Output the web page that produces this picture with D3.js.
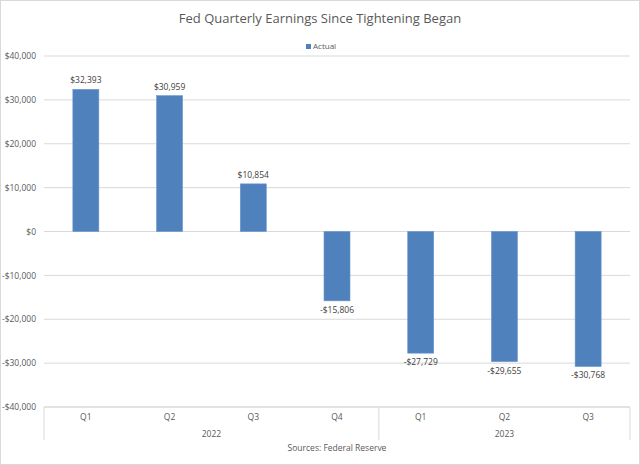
<!DOCTYPE html>
<html><head><meta charset="utf-8">
<script src="https://cdn.jsdelivr.net/npm/d3@7"></script>
<style>body{margin:0;background:#fff}svg{display:block;font-family:"Open Sans","Liberation Sans",sans-serif}</style>
</head><body><svg id="c" width="640" height="465"></svg>
<script>
const quarters = ["Q1","Q2","Q3","Q4","Q1","Q2","Q3"];
const years = ["2022","2022","2022","2022","2023","2023","2023"];
const actual = [32393, 30959, 10854, -15806, -27729, -29655, -30768];
const yTicks = [40000,30000,20000,10000,0,-10000,-20000,-30000,-40000];

const svg = d3.select("#c");
const W=640,H=465;
const L=44,R=630,T=56,B=407;
const txt="#595959";
svg.append("rect").attr("x",0.5).attr("y",0.5).attr("width",W-1).attr("height",H-1).attr("fill","#fff").attr("stroke","#d9d9d9");

svg.append("text").attr("x",320).attr("y",23).attr("text-anchor","middle").attr("fill",txt).attr("font-size",13).text("Fed Quarterly Earnings Since Tightening Began");
// legend
svg.append("rect").attr("x",306).attr("y",44).attr("width",5).attr("height",5).attr("fill","#4F81BD");
svg.append("text").attr("x",313).attr("y",49).attr("fill",txt).attr("font-size",8).text("Actual");

const y=d3.scaleLinear().domain([-40000,40000]).range([B,T]);
const x=d3.scaleBand().domain(d3.range(actual.length)).range([L,R]).paddingInner(0).paddingOuter(0);
const fmt=v=>(v<0?"-":"")+"$"+d3.format(",")(Math.abs(v));

const gy=svg.append("g").attr("transform",`translate(${L},0)`).call(d3.axisLeft(y).tickValues(yTicks).tickSize(0).tickPadding(8).tickFormat(fmt));
gy.select(".domain").remove();
gy.selectAll("text").attr("fill",txt).attr("font-size",8.5).attr("font-family","'Open Sans','Liberation Sans',sans-serif");
svg.append("g").selectAll("line").data(yTicks).join("line").attr("x1",L).attr("x2",R).attr("y1",d=>y(d)).attr("y2",d=>y(d)).attr("stroke","#d9d9d9").attr("stroke-width",1);

const bw=26;
svg.append("g").selectAll("rect").data(actual).join("rect")
 .attr("x",(d,i)=>x(i)+x.bandwidth()/2-bw/2).attr("width",bw)
 .attr("y",d=>y(Math.max(0,d))).attr("height",d=>Math.abs(y(d)-y(0)))
 .attr("fill","#4F81BD").attr("stroke","#6A96CC").attr("stroke-width",0.6);
svg.append("g").selectAll("text").data(actual).join("text")
 .attr("x",(d,i)=>x(i)+x.bandwidth()/2).attr("y",d=>d>=0?y(d)-6:y(d)+12)
 .attr("text-anchor","middle").attr("fill","#404040").attr("font-size",8.5).text(fmt);

// category axis
const ax=svg.append("g").attr("stroke","#d9d9d9").attr("stroke-width",1);
ax.append("line").attr("x1",L).attr("x2",R).attr("y1",B).attr("y2",B);
[L,x(4),R].forEach(v=>ax.append("line").attr("x1",v).attr("x2",v).attr("y1",B).attr("y2",440));
svg.append("g").selectAll("text").data(quarters).join("text")
 .attr("x",(d,i)=>x(i)+x.bandwidth()/2).attr("y",420).attr("text-anchor","middle").attr("fill",txt).attr("font-size",8.5).text(d=>d);
const yrs=[...new Set(years)];
svg.append("g").selectAll("text").data(yrs).join("text")
 .attr("x",yv=>{const idx=years.map((v,i)=>v===yv?i:-1).filter(i=>i>=0);return (x(idx[0])+x(idx[idx.length-1])+x.bandwidth())/2;})
 .attr("y",437).attr("text-anchor","middle").attr("fill",txt).attr("font-size",8.5).text(d=>d);
svg.append("text").attr("x",337).attr("y",451).attr("text-anchor","middle").attr("fill",txt).attr("font-size",8.5).text("Sources: Federal Reserve");
</script></body></html>
